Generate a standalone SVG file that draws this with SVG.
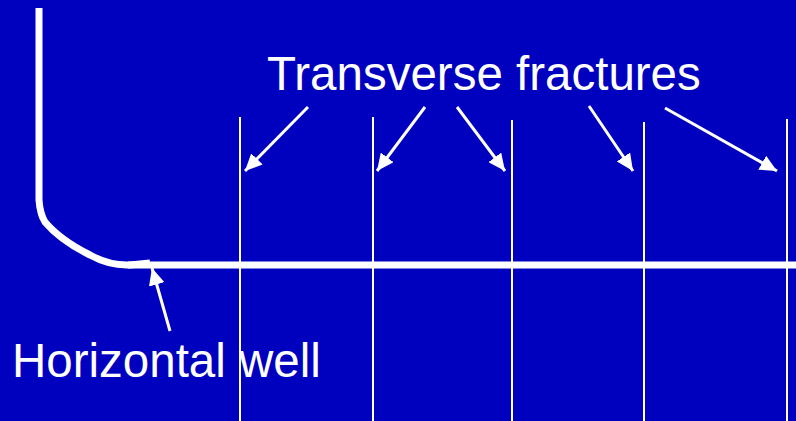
<svg xmlns="http://www.w3.org/2000/svg" width="796" height="421" viewBox="0 0 796 421">
<defs>
<style>
.lbl{font-family:"Liberation Sans",Arial,sans-serif;font-size:47.5px;fill:#fff}
.frac{stroke:#fff;stroke-width:2;fill:none}
.arr{stroke:#fff;stroke-width:3;fill:none;marker-end:url(#ah)}
.well{stroke:#fff;stroke-width:7;fill:none;stroke-linejoin:round}
</style>
<marker id="ah" markerUnits="userSpaceOnUse" markerWidth="18" markerHeight="16" refX="17" refY="8" orient="auto">
<path d="M0,0 L17,8 L0,16 Z" fill="#fff"/>
</marker>
</defs>
<rect width="796" height="421" fill="#0000BF"/>
<g id="well">
<path class="well" d="M39,8 L39,200 Q40,214 45,222 Q60,240 90,255 Q110,266 130,265 L150,263"/>
<line class="well" x1="128" y1="265" x2="796" y2="265"/>
</g>
<g id="fractures">
<line class="frac" x1="240" y1="117" x2="240" y2="421"/>
<line class="frac" x1="373" y1="117" x2="373" y2="421"/>
<line class="frac" x1="512" y1="120" x2="512" y2="421"/>
<line class="frac" x1="644" y1="122" x2="644" y2="421"/>
<line class="frac" x1="787" y1="119" x2="787" y2="421"/>
</g>
<g id="label-transverse">
<text class="lbl" x="267" y="90">Transverse fractures</text>
</g>
<g id="label-horizontal">
<text class="lbl" x="12" y="377">Horizontal well</text>
</g>
<g id="connectors">
<line class="arr" x1="308" y1="107" x2="245" y2="171"/>
<line class="arr" x1="425" y1="107" x2="377" y2="171"/>
<line class="arr" x1="457" y1="107" x2="505" y2="171"/>
<line class="arr" x1="589" y1="106" x2="633" y2="171"/>
<line class="arr" x1="665" y1="108" x2="777" y2="171"/>
<line class="arr" x1="170" y1="331" x2="152" y2="268"/>
</g>
</svg>
